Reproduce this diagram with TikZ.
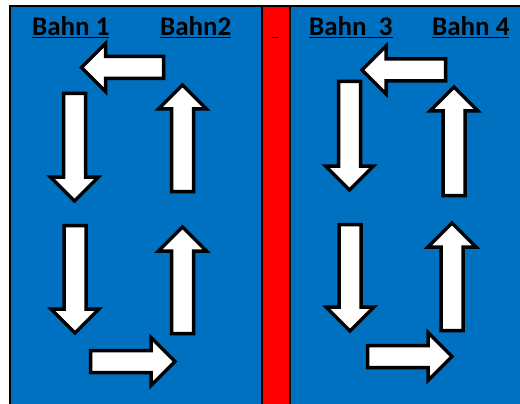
\documentclass[tikz,border=0pt]{standalone}
\usepackage{fontspec}
\setmainfont{Carlito}
\usetikzlibrary{positioning}

\definecolor{laneblue}{HTML}{0070C0}
\definecolor{stripred}{HTML}{FF0000}

% tail x, tail y, direction, length
\newcommand{\lanearrow}[4]{%
  \draw[lanearrow,shift={(#1,#2)},rotate=#3] (0,-11) -- ({#4-24},-11) -- ({#4-24},-24)
    -- (#4,0) -- ({#4-24},24) -- ({#4-24},11) -- (0,11) -- cycle;}

\begin{document}
\begin{tikzpicture}[x=1pt,y=-1pt,
    lanearrow/.style={draw=black,line width=3.5pt,fill=white,line join=miter},
    panel/.style={draw=black,line width=2.5pt},
    lanelabel/.style={anchor=base west,inner sep=0pt,font=\bfseries\fontsize{27}{32}\selectfont}]
  \useasboundingbox (0,0) rectangle (520,404);
  \clip (0,0) rectangle (520,404);

  % panels
  \fill[laneblue] (10,6) rectangle (530,420);
  \fill[stripred] (262,6) rectangle (290,420);
  \draw[panel] (10,420) -- (10,6) -- (530,6);
  \draw[panel] (262,6) -- (262,420);
  \draw[panel] (290,6) -- (290,420);

  % labels
  \node[lanelabel] (bahn1) at (32,36) {\underline{Bahn 1}};
  \node[lanelabel] (bahn2) at (160,36) {\underline{Bahn2}};
  \node[lanelabel] (gap) at (272,36) {\underline{\hspace{7pt}}};
  \node[lanelabel] (bahn3) at (309,36) {\underline{Bahn\ \ 3}};
  \node[lanelabel] (bahn4) at (432,36) {\underline{Bahn 4}};

  % left side
  \lanearrow{163.5}{67.5}{180}{82}
  \lanearrow{74.5}{93.5}{270}{107.5}
  \lanearrow{182.5}{191.5}{90}{106.5}
  \lanearrow{75}{225.5}{270}{107.5}
  \lanearrow{182.5}{333.5}{90}{106.5}
  \lanearrow{90.5}{361.5}{0}{84.5}

  % right side
  \lanearrow{445.5}{70}{180}{83.5}
  \lanearrow{349.5}{81.5}{270}{108.5}
  \lanearrow{454}{195.5}{90}{108.5}
  \lanearrow{350}{224.5}{270}{106.5}
  \lanearrow{452}{330.5}{90}{107.5}
  \lanearrow{367.5}{356.5}{0}{84.5}
\end{tikzpicture}
\end{document}
